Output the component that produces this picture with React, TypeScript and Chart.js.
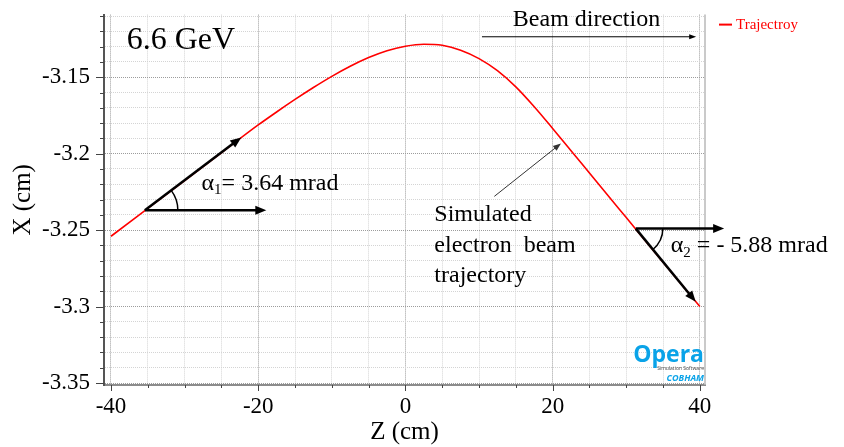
import React, { useEffect, useRef } from "react";
import { Chart, registerables } from "chart.js";

Chart.register(...registerables);

// ---- Data ----
const zValues = [
  -40, -35, -30, -25, -20, -17.5, -15, -12.5, -10, -7.5, -5, -2.5, 0, 2.5, 5, 7.5, 10, 12.5, 15,
  17.5, 20, 22.5, 25, 30, 35, 40,
];
const xValues = [
  -3.254, -3.2358, -3.2176, -3.1994, -3.1812, -3.1727, -3.1645, -3.1567, -3.1494, -3.1428, -3.1371,
  -3.1326, -3.1297, -3.1284, -3.1291, -3.1323, -3.1378, -3.1457, -3.1563, -3.1693, -3.1835,
  -3.198, -3.2126, -3.2418, -3.271, -3.3,
];
const seriesLabel = "Trajectroy";

const xMajorTicks = [-40, -20, 0, 20, 40];
const xTickLabels = ["-40", "-20", "0", "20", "40"];
const yMajorTicks = [-3.35, -3.3, -3.25, -3.2, -3.15];
const yTickLabels = ["-3.35", "-3.3", "-3.25", "-3.2", "-3.15"];
const xMinorStep = 5;
const yMinorStep = 0.01;

const xAxisTitle = "Z (cm)";
const yAxisTitle = "X (cm)";
const energyText = "6.6 GeV";
const beamText = "Beam direction";
const simText = ["Simulated", "electron  beam", "trajectory"];
const alpha1 = { sub: "1", text: "= 3.64 mrad", mrad: 3.64 };
const alpha2 = { sub: "2", text: " = - 5.88 mrad", mrad: -5.88 };

const X_MIN = -40.95, X_MAX = 40.7, Y_MIN = -3.3513, Y_MAX = -3.109;

const SERIF = '"Liberation Serif", "Times New Roman", serif';

const near = (v: number, list: number[]) => list.findIndex((t) => Math.abs(t - v) < 1e-6);

function gridValues(lo: number, hi: number, step: number) {
  const out: number[] = [];
  const a = Math.ceil(lo / step - 1e-9), b = Math.floor(hi / step + 1e-9);
  for (let k = a; k <= b; k++) out.push(Math.round(k * step * 1e6) / 1e6);
  return out;
}

function arrow(
  ctx: CanvasRenderingContext2D,
  x1: number, y1: number, x2: number, y2: number,
  width: number, headLen: number, headW: number
) {
  const a = Math.atan2(y2 - y1, x2 - x1);
  const c = Math.cos(a), s = Math.sin(a);
  ctx.lineWidth = width;
  ctx.beginPath();
  ctx.moveTo(x1, y1);
  ctx.lineTo(x2 - c * headLen * 0.7, y2 - s * headLen * 0.7);
  ctx.stroke();
  ctx.beginPath();
  ctx.moveTo(x2, y2);
  ctx.lineTo(x2 - headLen * c + headW * s, y2 - headLen * s - headW * c);
  ctx.lineTo(x2 - headLen * c - headW * s, y2 - headLen * s + headW * c);
  ctx.closePath();
  ctx.fill();
}

const decorPlugin = {
  id: "decor",
  afterDraw(chart: any) {
    const ctx: CanvasRenderingContext2D = chart.ctx;
    const xs = chart.scales.x;
    const ys = chart.scales.y;
    const ca = chart.chartArea;
    const px = (z: number) => xs.getPixelForValue(z);
    const py = (v: number) => ys.getPixelForValue(v);
    ctx.save();

    // right frame line
    ctx.strokeStyle = "#b8b8b8";
    ctx.lineWidth = 1.5;
    ctx.beginPath();
    ctx.moveTo(ca.right, ca.top);
    ctx.lineTo(ca.right, ca.bottom);
    ctx.stroke();

    // tick marks
    ctx.strokeStyle = "#444";
    ctx.lineWidth = 1;
    ys.ticks.forEach((t: any) => {
      const y = Math.round(py(t.value)) + 0.5;
      const len = near(t.value, yMajorTicks) >= 0 ? 8 : 4;
      ctx.beginPath();
      ctx.moveTo(ca.left - len, y);
      ctx.lineTo(ca.left, y);
      ctx.stroke();
    });
    xs.ticks.forEach((t: any) => {
      const x = Math.round(px(t.value)) + 0.5;
      const len = near(t.value, xMajorTicks) >= 0 ? 6 : 3;
      ctx.beginPath();
      ctx.moveTo(x, ca.bottom);
      ctx.lineTo(x, ca.bottom + len);
      ctx.stroke();
    });

    // legend
    const ds = chart.data.datasets[0];
    ctx.strokeStyle = ds.borderColor;
    ctx.lineWidth = 2;
    ctx.beginPath();
    ctx.moveTo(ca.right + 14, ca.top + 10);
    ctx.lineTo(ca.right + 27, ca.top + 10);
    ctx.stroke();
    ctx.fillStyle = ds.borderColor;
    ctx.font = `15px ${SERIF}`;
    ctx.textAlign = "left";
    ctx.textBaseline = "middle";
    ctx.fillText(ds.label, ca.right + 31, ca.top + 10);

    ctx.fillStyle = "#000";
    ctx.strokeStyle = "#000";

    // 6.6 GeV
    ctx.font = `32px ${SERIF}`;
    ctx.fillText(energyText, px(-37.86), py(-3.126));

    // Beam direction
    ctx.font = `24px ${SERIF}`;
    ctx.textAlign = "center";
    ctx.fillText(beamText, px(24.6), py(-3.1123));
    arrow(ctx, px(10.4), py(-3.1235), px(39.5), py(-3.1235), 1, 7, 2.5);

    // alpha 1
    const a1z = -35.4, a1x = -3.237;
    const s1 = Math.tan(alpha1.mrad / 1000);
    const c1x = px(a1z), c1y = py(a1x);
    arrow(ctx, c1x, c1y, px(-22.3), py(a1x + s1 * (-22.3 - a1z)), 2.5, 11, 4.5);
    arrow(ctx, c1x, c1y, px(-18.9), c1y, 2.5, 11, 4.5);
    const ang1 = Math.atan2(py(a1x + s1 * 10) - c1y, px(a1z + 10) - c1x);
    ctx.lineWidth = 1.5;
    ctx.beginPath();
    ctx.arc(c1x, c1y, 33, ang1, 0);
    ctx.stroke();

    const drawAlpha = (x: number, y: number, a: { sub: string; text: string }) => {
      ctx.textAlign = "left";
      ctx.font = `24px ${SERIF}`;
      ctx.fillText("\u03b1", x, y);
      let w = ctx.measureText("\u03b1").width;
      ctx.font = `15px ${SERIF}`;
      ctx.fillText(a.sub, x + w, y + 7);
      w += ctx.measureText(a.sub).width;
      ctx.font = `24px ${SERIF}`;
      ctx.fillText(a.text, x + w, y);
    };
    drawAlpha(px(-27.7), py(-3.2193), alpha1);

    // alpha 2
    const a2z = 31.3, a2x = -3.249;
    const s2 = Math.tan(alpha2.mrad / 1000);
    const c2x = px(a2z), c2y = py(a2x);
    arrow(ctx, c2x, c2y, px(39.44), py(a2x + s2 * (39.44 - a2z)), 2.5, 11, 4.5);
    arrow(ctx, c2x, c2y, px(43.3), c2y, 2.5, 11, 4.5);
    const ang2 = Math.atan2(py(a2x + s2 * 10) - c2y, px(a2z + 10) - c2x);
    ctx.lineWidth = 1.5;
    ctx.beginPath();
    ctx.arc(c2x, c2y, 27, 0, ang2);
    ctx.stroke();
    drawAlpha(px(36.05), py(-3.2604), alpha2);

    // Simulated electron beam trajectory
    ctx.font = `24px ${SERIF}`;
    ctx.textAlign = "left";
    const simY = [-3.2396, -3.2604, -3.2799];
    simText.forEach((t, i) => ctx.fillText(t, px(3.93), py(simY[i])));
    ctx.strokeStyle = "#333";
    ctx.fillStyle = "#333";
    arrow(ctx, px(12.08), py(-3.2279), px(21.13), py(-3.1933), 1, 8, 3);

    // Opera logo
    const lx = ca.right - 1;
    ctx.textAlign = "right";
    ctx.textBaseline = "alphabetic";
    ctx.fillStyle = "#0aa3e8";
    ctx.font = `bold 23px "Open Sans", Arial, sans-serif`;
    ctx.fillText("Opera", lx, ca.bottom - 23);
    ctx.fillStyle = "#444";
    ctx.font = `5px "Open Sans", Arial, sans-serif`;
    ctx.fillText("Simulation Software", lx, ca.bottom - 15);
    ctx.fillStyle = "#0aa3e8";
    ctx.font = `italic bold 9px "Open Sans", Arial, sans-serif`;
    ctx.fillText("COBHAM", lx, ca.bottom - 4);

    ctx.restore();
  },
};

export default function App() {
  const ref = useRef<HTMLCanvasElement | null>(null);

  useEffect(() => {
    if (!ref.current) return;
    const gridColor = (major: number[]) => (c: any) =>
      c.tick && near(c.tick.value, major) >= 0 ? "#9c9c9c" : "#d4d4d4";
    const tickFont = (major: number[]) => (c: any) => ({
      family: SERIF,
      size: c.tick && near(c.tick.value, major) >= 0 ? 23 : 1,
    });

    const chart = new Chart(ref.current, {
      type: "line",
      data: {
        datasets: [
          {
            label: seriesLabel,
            data: zValues.map((z, i) => ({ x: z, y: xValues[i] })),
            borderColor: "#ff0000",
            borderWidth: 1.6,
            pointRadius: 0,
            cubicInterpolationMode: "monotone",
            fill: false,
          },
        ],
      },
      options: {
        responsive: false,
        animation: false,
        layout: { padding: { top: 11, right: 139, left: 0, bottom: 0 } },
        plugins: { legend: { display: false }, tooltip: { enabled: false }, title: { display: false } },
        scales: {
          x: {
            type: "linear",
            min: X_MIN,
            max: X_MAX,
            afterFit: (s: any) => { s.height = 62; },
            afterBuildTicks: (s: any) => {
              s.ticks = gridValues(X_MIN, X_MAX, xMinorStep).map((v) => ({ value: v }));
            },
            ticks: {
              autoSkip: false,
              maxRotation: 0,
              padding: 8,
              color: "#000",
              font: tickFont(xMajorTicks),
              callback: (v: any) => {
                const i = near(Number(v), xMajorTicks);
                return i >= 0 ? xTickLabels[i] : "";
              },
            },
            grid: { color: gridColor(xMajorTicks), lineWidth: 1, drawTicks: false },
            border: { display: true, color: "#8c8c8c", width: 2, dash: [1, 1] },
            title: {
              display: true,
              text: xAxisTitle,
              color: "#000",
              font: { family: SERIF, size: 25 },
              padding: { top: 0, bottom: 0 },
            },
          },
          y: {
            type: "linear",
            min: Y_MIN,
            max: Y_MAX,
            afterFit: (s: any) => { s.width = 104; },
            afterBuildTicks: (s: any) => {
              s.ticks = gridValues(Y_MIN, Y_MAX, yMinorStep).map((v) => ({ value: v }));
            },
            ticks: {
              autoSkip: false,
              padding: 14,
              color: "#000",
              font: tickFont(yMajorTicks),
              callback: (v: any) => {
                const i = near(Number(v), yMajorTicks);
                return i >= 0 ? yTickLabels[i] : "";
              },
            },
            grid: { color: gridColor(yMajorTicks), lineWidth: 1, drawTicks: false },
            border: { display: true, color: "#555", width: 2, dash: [1, 1] },
            title: {
              display: true,
              text: yAxisTitle,
              color: "#000",
              font: { family: SERIF, size: 25 },
              padding: { top: 8, bottom: 0 },
            },
          },
        },
      },
      plugins: [decorPlugin],
    } as any);
    return () => chart.destroy();
  }, []);

  return (
    <div style={{ position: "fixed", left: 0, top: 0, width: 844, height: 447, background: "#fff" }}>
      <canvas ref={ref} width={844} height={447} style={{ display: "block" }} />
    </div>
  );
}
